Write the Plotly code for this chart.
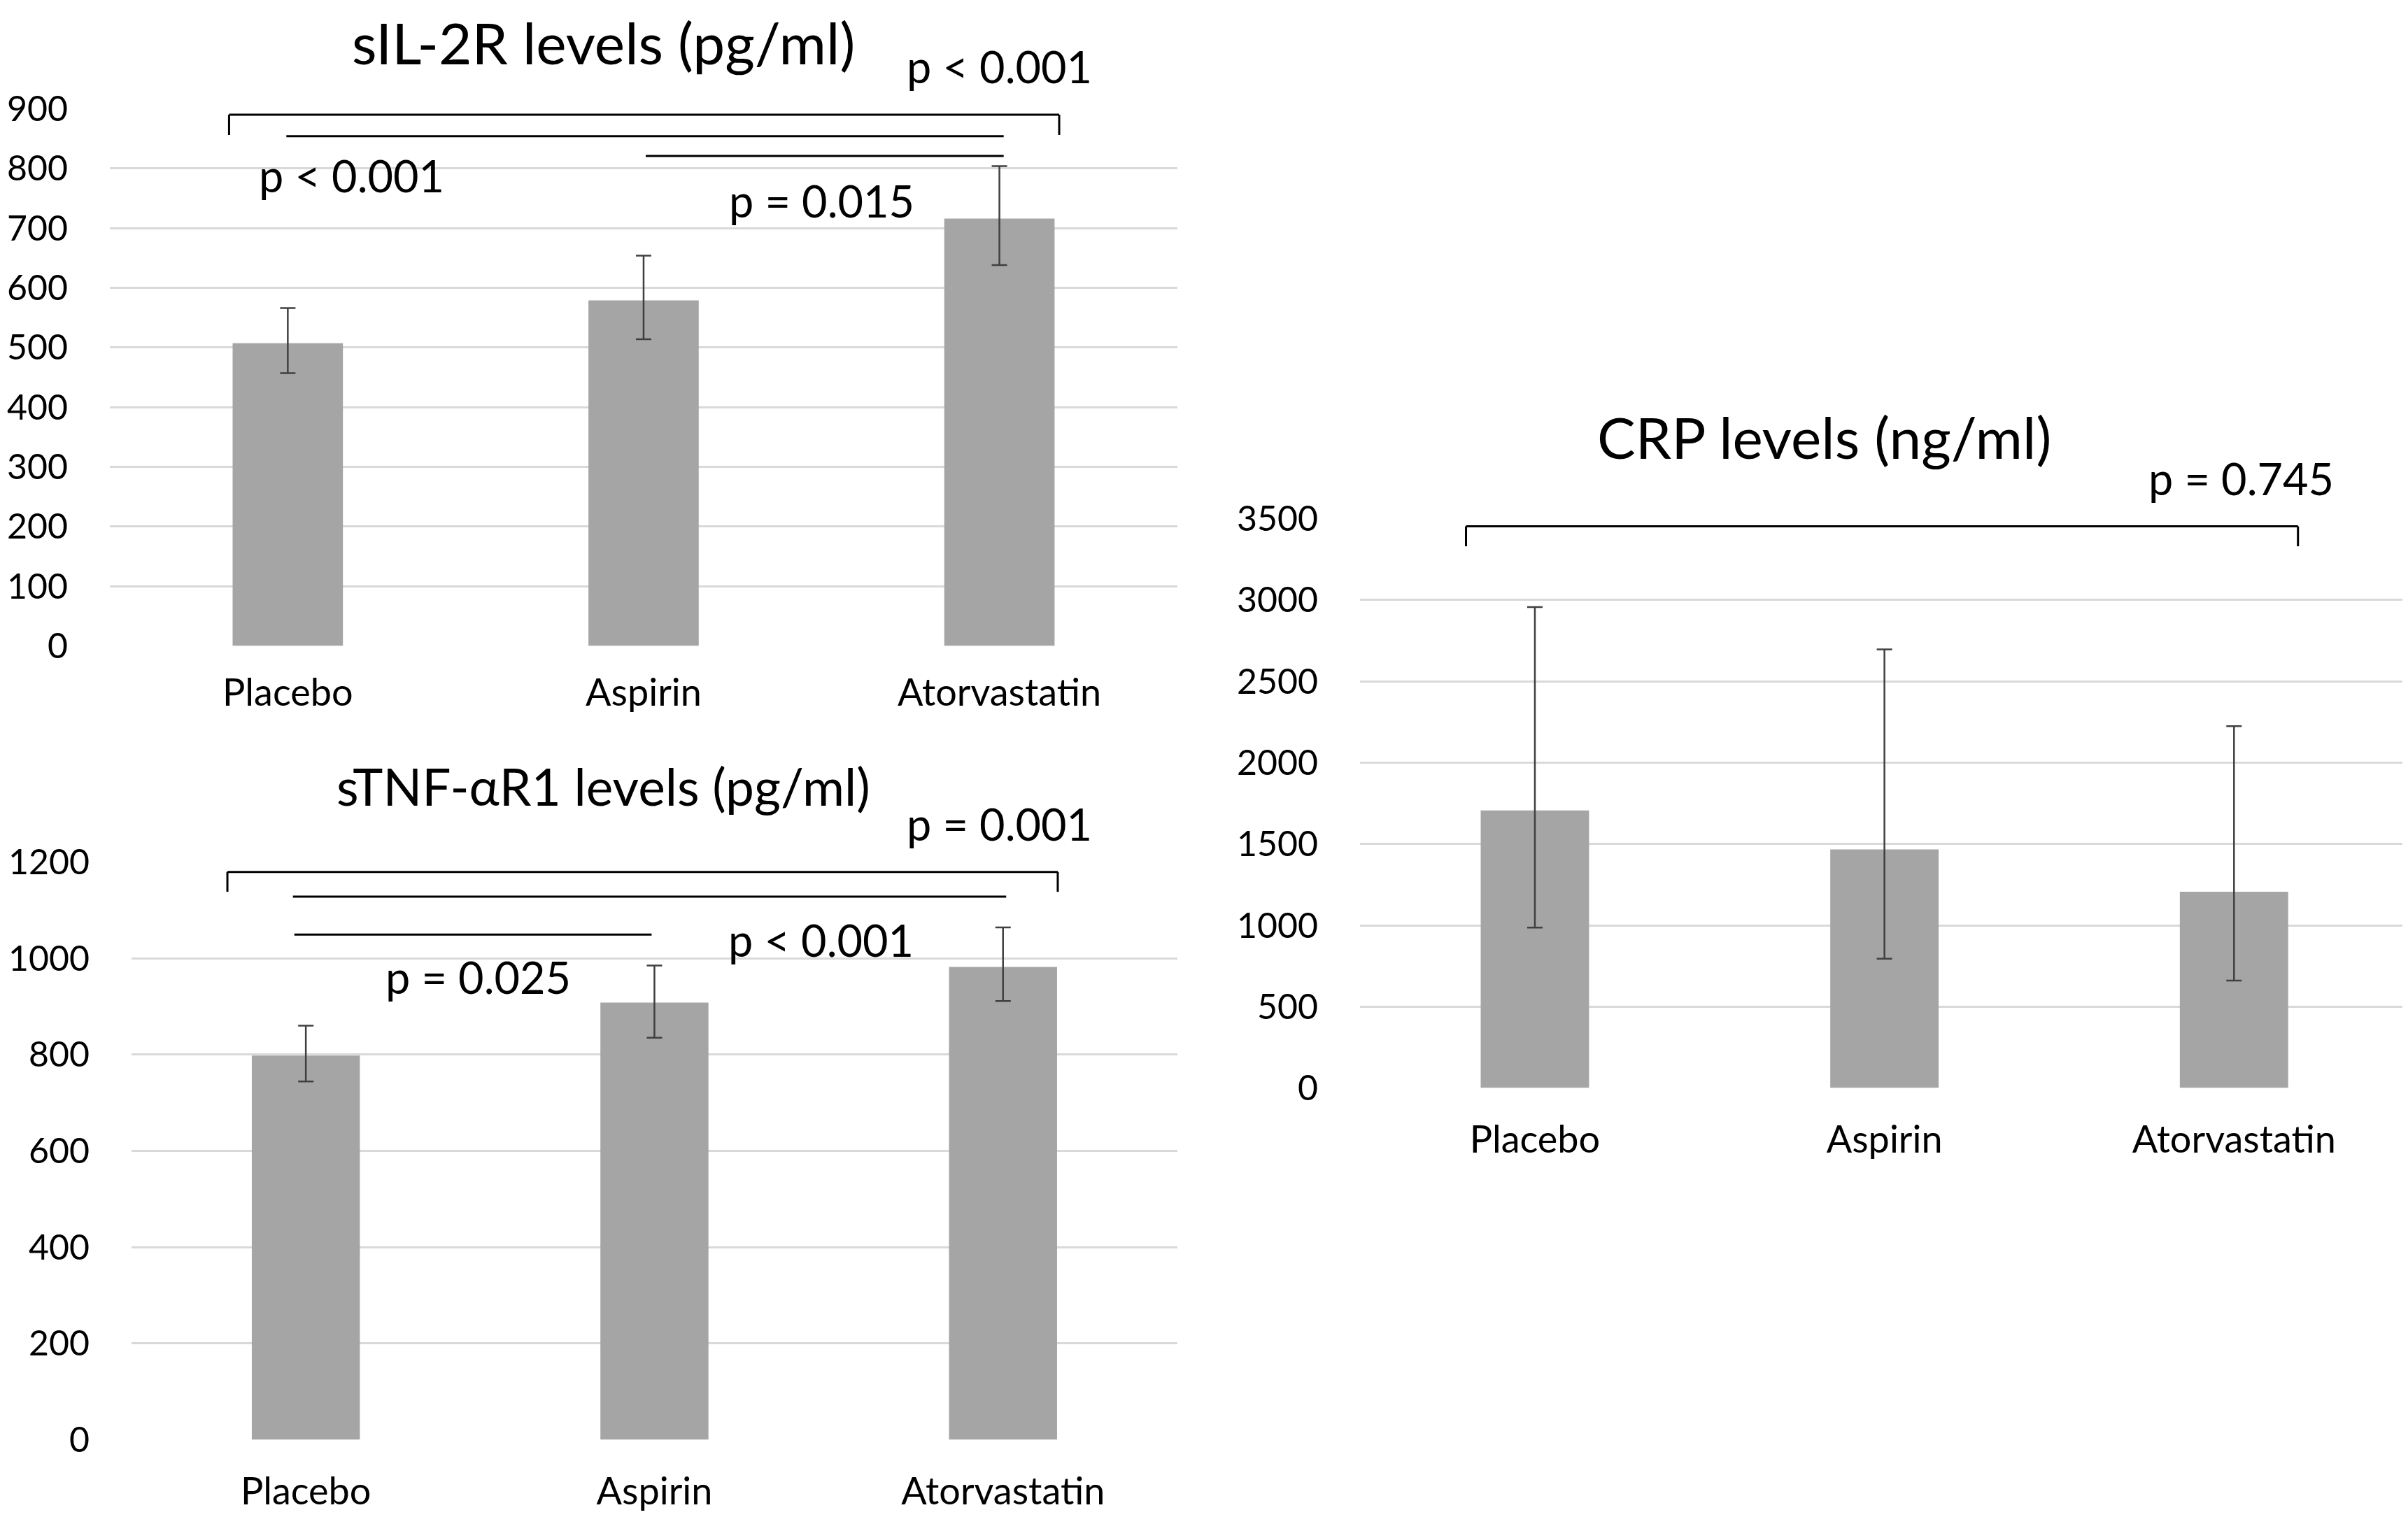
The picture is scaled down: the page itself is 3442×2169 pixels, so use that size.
import plotly.graph_objects as go

# ---------------- data ----------------
groups = ["Placebo", "Aspirin", "Atorvastatin"]

sil2r_mean = [507, 579, 716]
sil2r_err_hi = [566, 654, 804]
sil2r_err_lo = [457, 514, 638]

stnf_mean = [798, 908, 982]
stnf_err_hi = [860, 985, 1064]
stnf_err_lo = [744, 835, 911]

crp_mean = [1706, 1467, 1206]
crp_err_hi = [2956, 2696, 2224]
crp_err_lo = [986, 795, 660]

titles = ["sIL-2R levels (pg/ml)", "sTNF-αR1 levels (pg/ml)", "CRP levels (ng/ml)"]

# p-value labels
sil2r_p = ["p < 0.001", "p < 0.001", "p = 0.015"]
stnf_p = ["p = 0.001", "p < 0.001", "p = 0.025"]
crp_p = ["p = 0.745"]

# axis maxima
sil2r_max, stnf_max, crp_max = 900, 1200, 3500

# ---------------- styles ----------------
FONT = "Lato"
BAR = "#a5a5a5"
ERR = "#404040"
GRID = "#d9d9d9"
TICK_SIZE = 50
CAT_SIZE = 54
P_SIZE = 63
BAR_W = 0.31
DY = 0.003

fig = go.Figure()


def add_bars(mean, hi, lo, xa, ya):
    fig.add_trace(go.Bar(
        x=groups, y=mean, xaxis=xa, yaxis=ya, width=BAR_W,
        marker=dict(color=BAR, line=dict(width=0)),
        error_y=dict(type="data", symmetric=False,
                     array=[h - m for h, m in zip(hi, mean)],
                     arrayminus=[m - l for m, l in zip(mean, lo)],
                     color=ERR, thickness=2.5, width=11),
        showlegend=False, hoverinfo="skip",
    ))


add_bars(sil2r_mean, sil2r_err_hi, sil2r_err_lo, "x", "y")
add_bars(stnf_mean, stnf_err_hi, stnf_err_lo, "x2", "y2")
add_bars(crp_mean, crp_err_hi, crp_err_lo, "x3", "y3")

xcommon = dict(type="category", showgrid=False, zeroline=False, showline=False,
               ticks="", tickfont=dict(family=FONT, size=CAT_SIZE, color="#000000"),
               range=[-0.5, 2.5], fixedrange=True, automargin=False)
ycommon = dict(showgrid=True, gridcolor=GRID, gridwidth=3, zeroline=False,
               showline=False, ticks="",
               tickfont=dict(family=FONT, size=TICK_SIZE, color="#000000"),
               ticklabelstandoff=59, fixedrange=True, automargin=False)

fig.update_layout(
    width=3442, height=2169,
    margin=dict(l=0, r=0, t=0, b=0, autoexpand=False),
    paper_bgcolor="white", plot_bgcolor="white",
    font=dict(family=FONT, color="#000000"),
    xaxis=dict(domain=[0.0433, 0.4866], anchor="y", ticklabelstandoff=30, **xcommon),
    yaxis=dict(domain=[0.5749 + DY, 0.929 + DY], anchor="x", range=[0, sil2r_max], dtick=100, **ycommon),
    xaxis2=dict(domain=[0.0523, 0.4866], anchor="y2", ticklabelstandoff=37, **xcommon),
    yaxis2=dict(domain=[0.0516 + DY, 0.4325 + DY], anchor="x2", range=[0, stnf_max], dtick=200, **ycommon),
    xaxis3=dict(domain=[0.5625, 0.998], anchor="y3", ticklabelstandoff=37, **xcommon),
    yaxis3=dict(domain=[0.2835 + DY, 0.6588 + DY], anchor="x3", range=[0, crp_max], dtick=500, **ycommon),
)

# titles
title_pos = [(0.2482, 0.976, "middle", 82), (0.2484, 0.4827 + DY, "middle", 73),
             (0.7551, 0.7128 + DY, "middle", 82)]
for txt, (tx, ty, ya, fs) in zip(titles, title_pos):
    fig.add_annotation(text=txt, xref="paper", yref="paper", x=tx, y=ty,
                       showarrow=False, xanchor="center", yanchor=ya,
                       font=dict(family=FONT, size=fs, color="#000000"))

LINE = dict(color="#000000", width=3)


def bracket(xa, ya, x0, x1, ytop, ytip):
    for (a, b, c, d) in [(x0, ytip, x0, ytop), (x0, ytop, x1, ytop), (x1, ytop, x1, ytip)]:
        fig.add_shape(type="line", xref=xa, yref=ya, x0=a, y0=b, x1=c, y1=d, line=LINE)


def hline(xa, ya, x0, x1, yv):
    fig.add_shape(type="line", xref=xa, yref=ya, x0=x0, y0=yv, x1=x1, y1=yv, line=LINE)


def ptext(xa, ya, txt, xv, yv, ymax):
    # position in axis-domain units so labels above the value range stay visible
    fig.add_annotation(text=txt, xref=xa, yref=ya + " domain", x=xv, y=yv / ymax,
                       showarrow=False, xanchor="center", yanchor="middle",
                       font=dict(family=FONT, size=P_SIZE, color="#000000"))


# sIL-2R
bracket("x", "y", -0.165, 2.168, 890, 856)
hline("x", "y", -0.004, 2.012, 854)
hline("x", "y", 1.006, 2.012, 821)
ptext("x", "y", sil2r_p[0], 2.0, 972, sil2r_max)
ptext("x", "y", sil2r_p[1], 0.18, 789, sil2r_max)
ptext("x", "y", sil2r_p[2], 1.50, 746, sil2r_max)

# sTNF-aR1
bracket("x2", "y2", -0.225, 2.157, 1179, 1138)
hline("x2", "y2", -0.037, 2.009, 1128)
hline("x2", "y2", -0.033, 0.992, 1049)
ptext("x2", "y2", stnf_p[0], 1.99, 1280, stnf_max)
ptext("x2", "y2", stnf_p[1], 1.477, 1038, stnf_max)
ptext("x2", "y2", stnf_p[2], 0.495, 962, stnf_max)

# CRP
bracket("x3", "y3", -0.197, 2.183, 3453, 3330)
ptext("x3", "y3", crp_p[0], 2.02, 3750, crp_max)

fig.write_html("out.html")
